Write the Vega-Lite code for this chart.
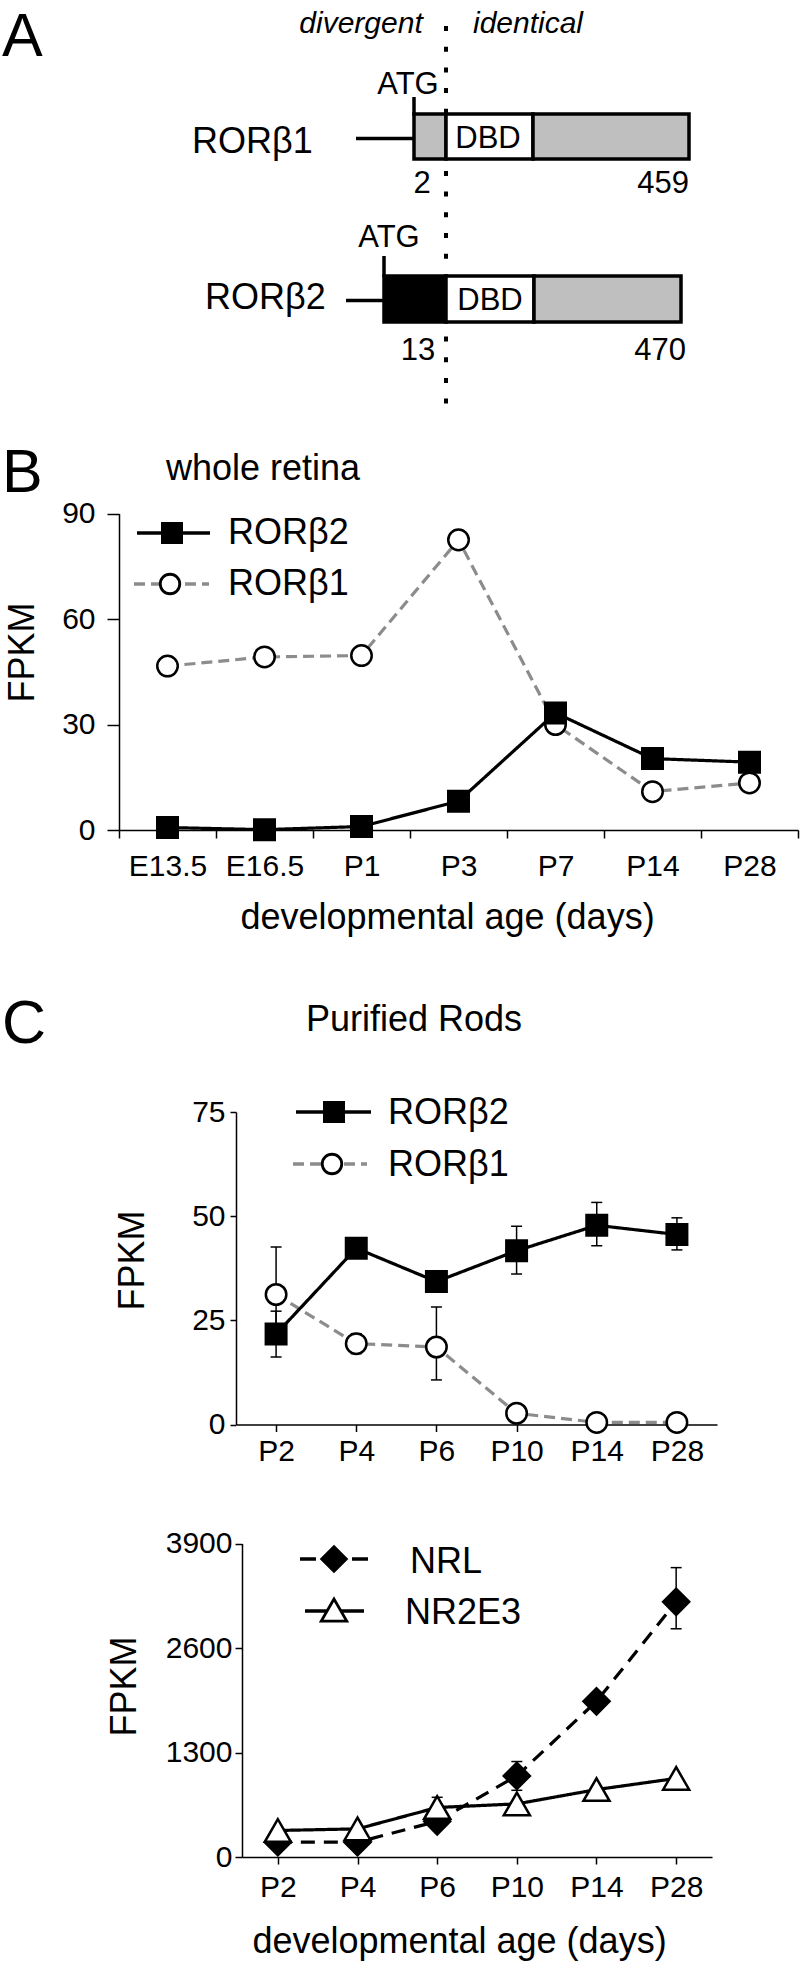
{
  "$schema": "https://vega.github.io/schema/vega-lite/v6.json",
  "background": "white",
  "padding": 0,
  "spacing": 0,
  "bounds": "flush",
  "resolve": {
    "scale": {"fill": "independent", "stroke": "independent", "strokeDash": "independent", "shape": "independent"}
  },
  "config": {
    "view": {"stroke": null},
    "font": "Liberation Sans",
    "axis": {
      "grid": false,
      "domainColor": "black",
      "tickColor": "black",
      "labelColor": "black",
      "titleColor": "black",
      "labelFont": "Liberation Sans",
      "titleFont": "Liberation Sans",
      "titleFontWeight": "normal",
      "labelFontSize": 30,
      "titleFontSize": 36,
      "domainWidth": 1.5,
      "tickWidth": 1.5,
      "labelOverlap": false,
      "labelFlush": false
    },
    "text": {"font": "Liberation Sans", "color": "black"}
  },
  "vconcat": [
    {
      "width": 800,
      "height": 420,
      "layer": [
        {
          "data": {"values": [{"feature": "boundary", "x": 446, "y": 26, "y2": 406}]},
          "mark": {"type": "rule", "strokeDash": [5, 15.7], "strokeWidth": 4, "color": "black", "strokeCap": "butt"},
          "encoding": {
            "x": {"field": "x", "type": "quantitative", "scale": {"domain": [0, 800], "range": [0, 800], "nice": false, "zero": false}, "axis": null},
            "y": {"field": "y", "type": "quantitative", "scale": {"domain": [0, 1962], "range": [0, 1962], "nice": false, "zero": false}, "axis": null},
            "y2": {"field": "y2"}
          }
        },
        {
          "data": {"values": [
            {"feature": "5' UTR RORβ1", "x": 356, "x2": 414, "y": 138.5, "y2": 138.5},
            {"feature": "ATG RORβ1", "x": 414, "x2": 414, "y": 97, "y2": 116},
            {"feature": "5' UTR RORβ2", "x": 346, "x2": 384, "y": 300.5, "y2": 300.5},
            {"feature": "ATG RORβ2", "x": 384, "x2": 384, "y": 256, "y2": 277}
          ]},
          "mark": {"type": "rule", "strokeWidth": 3.5, "color": "black"},
          "encoding": {
            "x": {"field": "x", "type": "quantitative"},
            "x2": {"field": "x2"},
            "y": {"field": "y", "type": "quantitative"},
            "y2": {"field": "y2"}
          }
        },
        {
          "data": {"values": [
            {"isoform": "RORβ1", "region": "N-term RORβ1", "start": 414, "end": 446, "top": 114, "bottom": 159},
            {"isoform": "RORβ1", "region": "DBD", "start": 446, "end": 533, "top": 114, "bottom": 159},
            {"isoform": "RORβ1", "region": "common", "start": 533, "end": 689, "top": 114, "bottom": 159},
            {"isoform": "RORβ2", "region": "N-term RORβ2", "start": 384, "end": 446, "top": 276, "bottom": 322},
            {"isoform": "RORβ2", "region": "DBD", "start": 446, "end": 534, "top": 276, "bottom": 322},
            {"isoform": "RORβ2", "region": "common", "start": 534, "end": 681, "top": 276, "bottom": 322}
          ]},
          "mark": {"type": "rect", "stroke": "black", "strokeWidth": 3.5},
          "encoding": {
            "x": {"field": "start", "type": "quantitative"},
            "x2": {"field": "end"},
            "y": {"field": "top", "type": "quantitative"},
            "y2": {"field": "bottom"},
            "fill": {"field": "region", "type": "nominal", "scale": {"domain": ["N-term RORβ1", "DBD", "common", "N-term RORβ2"], "range": ["#bfbfbf", "white", "#bfbfbf", "black"]}, "legend": null}
          }
        },
        {
          "data": {"values": [
            {"label": "A", "x": 2, "y": 56},
            {"label": "B", "x": 2, "y": 492},
            {"label": "C", "x": 2, "y": 1043}
          ]},
          "mark": {"type": "text", "fontSize": 61, "align": "left", "baseline": "alphabetic"},
          "encoding": {
            "x": {"field": "x", "type": "quantitative"},
            "y": {"field": "y", "type": "quantitative"},
            "text": {"field": "label"}
          }
        },
        {
          "data": {"values": [
            {"label": "divergent", "x": 361, "y": 33},
            {"label": "identical", "x": 528, "y": 33}
          ]},
          "mark": {"type": "text", "fontSize": 30, "fontStyle": "italic", "align": "center", "baseline": "alphabetic"},
          "encoding": {
            "x": {"field": "x", "type": "quantitative"},
            "y": {"field": "y", "type": "quantitative"},
            "text": {"field": "label"}
          }
        },
        {
          "data": {"values": [
            {"label": "whole retina", "x": 263, "y": 480},
            {"label": "Purified Rods", "x": 414, "y": 1031}
          ]},
          "mark": {"type": "text", "fontSize": 36, "align": "center", "baseline": "alphabetic"},
          "encoding": {
            "x": {"field": "x", "type": "quantitative"},
            "y": {"field": "y", "type": "quantitative"},
            "text": {"field": "label"}
          }
        },
        {
          "data": {"values": [
            {"label": "RORβ1", "x": 192, "y": 153},
            {"label": "RORβ2", "x": 205, "y": 309}
          ]},
          "mark": {"type": "text", "fontSize": 36, "align": "left", "baseline": "alphabetic"},
          "encoding": {
            "x": {"field": "x", "type": "quantitative"},
            "y": {"field": "y", "type": "quantitative"},
            "text": {"field": "label"}
          }
        },
        {
          "data": {"values": [
            {"label": "ATG", "x": 408, "y": 94},
            {"label": "ATG", "x": 389, "y": 247},
            {"label": "DBD", "x": 488, "y": 148},
            {"label": "DBD", "x": 490, "y": 310},
            {"label": "2", "x": 422, "y": 193},
            {"label": "13", "x": 418, "y": 360}
          ]},
          "mark": {"type": "text", "fontSize": 31, "align": "center", "baseline": "alphabetic"},
          "encoding": {
            "x": {"field": "x", "type": "quantitative"},
            "y": {"field": "y", "type": "quantitative"},
            "text": {"field": "label"}
          }
        },
        {
          "data": {"values": [
            {"label": "459", "x": 689, "y": 193},
            {"label": "470", "x": 686, "y": 360}
          ]},
          "mark": {"type": "text", "fontSize": 31, "align": "right", "baseline": "alphabetic"},
          "encoding": {
            "x": {"field": "x", "type": "quantitative"},
            "y": {"field": "y", "type": "quantitative"},
            "text": {"field": "label"}
          }
        },
        {
          "data": {"values": [
            {"legend": "B", "gene": "RORβ2", "x": 137, "x2": 210, "y": 533},
            {"legend": "C rods", "gene": "RORβ2", "x": 296, "x2": 371, "y": 1112},
            {"legend": "C markers", "gene": "NR2E3", "x": 305, "x2": 364, "y": 1611}
          ]},
          "mark": {"type": "rule", "strokeWidth": 3.5, "color": "black"},
          "encoding": {
            "x": {"field": "x", "type": "quantitative"},
            "x2": {"field": "x2"},
            "y": {"field": "y", "type": "quantitative"}
          }
        },
        {
          "data": {"values": [
            {"legend": "B", "gene": "RORβ1", "x": 134, "x2": 209, "y": 584},
            {"legend": "C rods", "gene": "RORβ1", "x": 293, "x2": 367, "y": 1164}
          ]},
          "mark": {"type": "rule", "strokeWidth": 3.5, "color": "#8c8c8c", "strokeDash": [11, 6]},
          "encoding": {
            "x": {"field": "x", "type": "quantitative"},
            "x2": {"field": "x2"},
            "y": {"field": "y", "type": "quantitative"}
          }
        },
        {
          "data": {"values": [
            {"legend": "C markers", "gene": "NRL", "x": 300, "x2": 370, "y": 1559}
          ]},
          "mark": {"type": "rule", "strokeWidth": 3.5, "color": "black", "strokeDash": [16, 10]},
          "encoding": {
            "x": {"field": "x", "type": "quantitative"},
            "x2": {"field": "x2"},
            "y": {"field": "y", "type": "quantitative"}
          }
        },
        {
          "data": {"values": [
            {"legend": "B", "gene": "RORβ2", "x": 172, "y": 533},
            {"legend": "C rods", "gene": "RORβ2", "x": 334, "y": 1112}
          ]},
          "mark": {"type": "point", "shape": "square", "filled": true, "size": 420, "color": "black", "stroke": "black", "strokeWidth": 1.5, "opacity": 1},
          "encoding": {
            "x": {"field": "x", "type": "quantitative"},
            "y": {"field": "y", "type": "quantitative"}
          }
        },
        {
          "data": {"values": [
            {"legend": "B", "gene": "RORβ1", "x": 170, "y": 584},
            {"legend": "C rods", "gene": "RORβ1", "x": 332, "y": 1164}
          ]},
          "mark": {"type": "point", "shape": "circle", "filled": true, "size": 380, "fill": "white", "stroke": "black", "strokeWidth": 2.8, "opacity": 1},
          "encoding": {
            "x": {"field": "x", "type": "quantitative"},
            "y": {"field": "y", "type": "quantitative"}
          }
        },
        {
          "data": {"values": [
            {"legend": "C markers", "gene": "NRL", "x": 334, "y": 1559}
          ]},
          "mark": {"type": "point", "shape": "diamond", "filled": true, "size": 700, "color": "black", "stroke": "black", "strokeWidth": 1.5, "opacity": 1},
          "encoding": {
            "x": {"field": "x", "type": "quantitative"},
            "y": {"field": "y", "type": "quantitative"}
          }
        },
        {
          "data": {"values": [
            {"legend": "C markers", "gene": "NR2E3", "x": 334, "y": 1610}
          ]},
          "mark": {"type": "point", "shape": "triangle-up", "filled": true, "size": 650, "fill": "white", "stroke": "black", "strokeWidth": 2.8, "opacity": 1},
          "encoding": {
            "x": {"field": "x", "type": "quantitative"},
            "y": {"field": "y", "type": "quantitative"}
          }
        },
        {
          "data": {"values": [
            {"label": "RORβ2", "x": 228, "y": 544},
            {"label": "RORβ1", "x": 228, "y": 595},
            {"label": "RORβ2", "x": 388, "y": 1124},
            {"label": "RORβ1", "x": 388, "y": 1176},
            {"label": "NRL", "x": 410, "y": 1573},
            {"label": "NR2E3", "x": 405, "y": 1624}
          ]},
          "mark": {"type": "text", "fontSize": 36, "align": "left", "baseline": "alphabetic"},
          "encoding": {
            "x": {"field": "x", "type": "quantitative"},
            "y": {"field": "y", "type": "quantitative"},
            "text": {"field": "label"}
          }
        }
      ]
    },
    {
      "width": 800,
      "height": 540,
      "data": {"values": [
        {"gene": "RORβ1", "age": "E13.5", "fpkm": 46.6},
        {"gene": "RORβ1", "age": "E16.5", "fpkm": 49.2},
        {"gene": "RORβ1", "age": "P1", "fpkm": 49.6},
        {"gene": "RORβ1", "age": "P3", "fpkm": 82.5},
        {"gene": "RORβ1", "age": "P7", "fpkm": 30.0},
        {"gene": "RORβ1", "age": "P14", "fpkm": 10.9},
        {"gene": "RORβ1", "age": "P28", "fpkm": 13.4},
        {"gene": "RORβ2", "age": "E13.5", "fpkm": 0.7},
        {"gene": "RORβ2", "age": "E16.5", "fpkm": 0.1},
        {"gene": "RORβ2", "age": "P1", "fpkm": 1.0},
        {"gene": "RORβ2", "age": "P3", "fpkm": 8.2},
        {"gene": "RORβ2", "age": "P7", "fpkm": 33.3},
        {"gene": "RORβ2", "age": "P14", "fpkm": 20.3},
        {"gene": "RORβ2", "age": "P28", "fpkm": 19.3}
      ]},
      "layer": [
        {
          "mark": {"type": "line", "strokeWidth": 3.2},
          "encoding": {
            "x": {"field": "age", "type": "nominal", "sort": ["E13.5", "E16.5", "P1", "P3", "P7", "P14", "P28"],
                  "scale": {"type": "band", "range": [119, 798], "paddingInner": 0, "paddingOuter": 0},
                  "axis": {"title": "developmental age (days)", "offset": -130, "tickBand": "extent", "tickSize": 8, "labelPadding": 13, "labelAngle": 0,
                           "titleX": 447, "titleY": 98, "titleBaseline": "alphabetic", "titleAlign": "center"}},
            "y": {"field": "fpkm", "type": "quantitative",
                  "scale": {"domain": [0, 90], "range": [410, 93.5], "nice": false, "zero": false},
                  "axis": {"title": "FPKM", "values": [0, 30, 60, 90], "format": "d", "offset": -119, "tickSize": 12, "labelPadding": 12,
                           "titleX": -86, "titleY": 232, "titleBaseline": "alphabetic", "titleAngle": -90, "titleAlign": "center"}},
            "stroke": {"field": "gene", "type": "nominal", "scale": {"domain": ["RORβ2", "RORβ1"], "range": ["black", "#8c8c8c"]}, "legend": null},
            "strokeDash": {"field": "gene", "type": "nominal", "scale": {"domain": ["RORβ2", "RORβ1"], "range": [[1, 0], [11, 6]]}, "legend": null}
          }
        },
        {
          "mark": {"type": "point", "filled": true, "size": 420, "stroke": "black", "strokeWidth": 2.5, "opacity": 1},
          "encoding": {
            "x": {"field": "age", "type": "nominal", "sort": ["E13.5", "E16.5", "P1", "P3", "P7", "P14", "P28"]},
            "y": {"field": "fpkm", "type": "quantitative"},
            "shape": {"field": "gene", "type": "nominal", "scale": {"domain": ["RORβ2", "RORβ1"], "range": ["square", "circle"]}, "legend": null},
            "fill": {"field": "gene", "type": "nominal", "scale": {"domain": ["RORβ2", "RORβ1"], "range": ["black", "white"]}, "legend": null}
          }
        }
      ]
    },
    {
      "width": 800,
      "height": 520,
      "data": {"values": [
        {"gene": "RORβ1", "age": "P2", "fpkm": 31.2, "lo": 19.8, "hi": 42.6},
        {"gene": "RORβ1", "age": "P4", "fpkm": 19.4, "lo": 17.0, "hi": 21.8},
        {"gene": "RORβ1", "age": "P6", "fpkm": 18.6, "lo": 10.7, "hi": 28.2},
        {"gene": "RORβ1", "age": "P10", "fpkm": 2.7},
        {"gene": "RORβ1", "age": "P14", "fpkm": 0.5},
        {"gene": "RORβ1", "age": "P28", "fpkm": 0.5},
        {"gene": "RORβ2", "age": "P2", "fpkm": 21.7, "lo": 16.2, "hi": 27.2},
        {"gene": "RORβ2", "age": "P4", "fpkm": 42.3},
        {"gene": "RORβ2", "age": "P6", "fpkm": 34.3},
        {"gene": "RORβ2", "age": "P10", "fpkm": 41.7, "lo": 36.1, "hi": 47.6},
        {"gene": "RORβ2", "age": "P14", "fpkm": 47.8, "lo": 42.9, "hi": 53.3},
        {"gene": "RORβ2", "age": "P28", "fpkm": 45.6, "lo": 41.9, "hi": 49.6}
      ]},
      "layer": [
        {
          "mark": {"type": "line", "strokeWidth": 3.2},
          "encoding": {
            "x": {"field": "age", "type": "nominal", "sort": ["P2", "P4", "P6", "P10", "P14", "P28"],
                  "scale": {"type": "point", "range": [236, 717], "padding": 0.5},
                  "axis": {"title": null, "offset": -55.5, "tickSize": 7, "labelPadding": 5, "labelAngle": 0}},
            "y": {"field": "fpkm", "type": "quantitative",
                  "scale": {"domain": [0, 75], "range": [464.5, 152], "nice": false, "zero": false},
                  "axis": {"title": "FPKM", "values": [0, 25, 50, 75], "format": "d", "offset": -236, "tickSize": 6, "labelPadding": 5,
                           "titleX": -93, "titleY": 300, "titleBaseline": "alphabetic", "titleAngle": -90, "titleAlign": "center"}},
            "stroke": {"field": "gene", "type": "nominal", "scale": {"domain": ["RORβ2", "RORβ1"], "range": ["black", "#8c8c8c"]}, "legend": null},
            "strokeDash": {"field": "gene", "type": "nominal", "scale": {"domain": ["RORβ2", "RORβ1"], "range": [[1, 0], [11, 6]]}, "legend": null}
          }
        },
        {
          "transform": [{"filter": "isValid(datum.lo)"}],
          "mark": {"type": "rule", "strokeWidth": 1.5, "color": "black"},
          "encoding": {
            "x": {"field": "age", "type": "nominal", "sort": ["P2", "P4", "P6", "P10", "P14", "P28"]},
            "y": {"field": "lo", "type": "quantitative"},
            "y2": {"field": "hi"}
          }
        },
        {
          "transform": [{"filter": "isValid(datum.lo)"}],
          "mark": {"type": "tick", "size": 11, "thickness": 1.5, "color": "black", "opacity": 1},
          "encoding": {
            "x": {"field": "age", "type": "nominal", "sort": ["P2", "P4", "P6", "P10", "P14", "P28"]},
            "y": {"field": "lo", "type": "quantitative"}
          }
        },
        {
          "transform": [{"filter": "isValid(datum.hi)"}],
          "mark": {"type": "tick", "size": 11, "thickness": 1.5, "color": "black", "opacity": 1},
          "encoding": {
            "x": {"field": "age", "type": "nominal", "sort": ["P2", "P4", "P6", "P10", "P14", "P28"]},
            "y": {"field": "hi", "type": "quantitative"}
          }
        },
        {
          "mark": {"type": "point", "filled": true, "size": 420, "stroke": "black", "strokeWidth": 2.5, "opacity": 1},
          "encoding": {
            "x": {"field": "age", "type": "nominal", "sort": ["P2", "P4", "P6", "P10", "P14", "P28"]},
            "y": {"field": "fpkm", "type": "quantitative"},
            "shape": {"field": "gene", "type": "nominal", "scale": {"domain": ["RORβ2", "RORβ1"], "range": ["square", "circle"]}, "legend": null},
            "fill": {"field": "gene", "type": "nominal", "scale": {"domain": ["RORβ2", "RORβ1"], "range": ["black", "white"]}, "legend": null}
          }
        }
      ]
    },
    {
      "width": 800,
      "height": 482,
      "data": {"values": [
        {"gene": "NRL", "age": "P2", "fpkm": 184},
        {"gene": "NRL", "age": "P4", "fpkm": 184},
        {"gene": "NRL", "age": "P6", "fpkm": 444},
        {"gene": "NRL", "age": "P10", "fpkm": 1009, "lo": 830, "hi": 1188},
        {"gene": "NRL", "age": "P14", "fpkm": 1937},
        {"gene": "NRL", "age": "P28", "fpkm": 3175, "lo": 2840, "hi": 3601},
        {"gene": "NR2E3", "age": "P2", "fpkm": 330},
        {"gene": "NR2E3", "age": "P4", "fpkm": 350},
        {"gene": "NR2E3", "age": "P6", "fpkm": 616, "lo": 490, "hi": 743},
        {"gene": "NR2E3", "age": "P10", "fpkm": 661},
        {"gene": "NR2E3", "age": "P14", "fpkm": 839},
        {"gene": "NR2E3", "age": "P28", "fpkm": 978}
      ]},
      "layer": [
        {
          "mark": {"type": "line", "strokeWidth": 3.2},
          "encoding": {
            "x": {"field": "age", "type": "nominal", "sort": ["P2", "P4", "P6", "P10", "P14", "P28"],
                  "scale": {"type": "point", "range": [242, 712], "padding": 0.45},
                  "axis": {"title": "developmental age (days)", "offset": -105, "tickSize": 7, "labelPadding": 8, "labelAngle": 0,
                           "titleX": 459, "titleY": 95, "titleBaseline": "alphabetic", "titleAlign": "center"}},
            "y": {"field": "fpkm", "type": "quantitative",
                  "scale": {"domain": [0, 3900], "range": [377, 63.6], "nice": false, "zero": false},
                  "axis": {"title": "FPKM", "values": [0, 1300, 2600, 3900], "format": "d", "offset": -242, "tickSize": 7, "labelPadding": 3,
                           "titleX": -107, "titleY": 206, "titleBaseline": "alphabetic", "titleAngle": -90, "titleAlign": "center"}},
            "stroke": {"field": "gene", "type": "nominal", "scale": {"domain": ["NRL", "NR2E3"], "range": ["black", "black"]}, "legend": null},
            "strokeDash": {"field": "gene", "type": "nominal", "scale": {"domain": ["NRL", "NR2E3"], "range": [[14, 9], [1, 0]]}, "legend": null}
          }
        },
        {
          "transform": [{"filter": "isValid(datum.lo)"}],
          "mark": {"type": "rule", "strokeWidth": 1.5, "color": "black"},
          "encoding": {
            "x": {"field": "age", "type": "nominal", "sort": ["P2", "P4", "P6", "P10", "P14", "P28"]},
            "y": {"field": "lo", "type": "quantitative"},
            "y2": {"field": "hi"}
          }
        },
        {
          "transform": [{"filter": "isValid(datum.lo)"}],
          "mark": {"type": "tick", "size": 11, "thickness": 1.5, "color": "black", "opacity": 1},
          "encoding": {
            "x": {"field": "age", "type": "nominal", "sort": ["P2", "P4", "P6", "P10", "P14", "P28"]},
            "y": {"field": "lo", "type": "quantitative"}
          }
        },
        {
          "transform": [{"filter": "isValid(datum.hi)"}],
          "mark": {"type": "tick", "size": 11, "thickness": 1.5, "color": "black", "opacity": 1},
          "encoding": {
            "x": {"field": "age", "type": "nominal", "sort": ["P2", "P4", "P6", "P10", "P14", "P28"]},
            "y": {"field": "hi", "type": "quantitative"}
          }
        },
        {
          "mark": {"type": "point", "filled": true, "size": 680, "stroke": "black", "strokeWidth": 2.5, "opacity": 1},
          "encoding": {
            "x": {"field": "age", "type": "nominal", "sort": ["P2", "P4", "P6", "P10", "P14", "P28"]},
            "y": {"field": "fpkm", "type": "quantitative"},
            "shape": {"field": "gene", "type": "nominal", "scale": {"domain": ["NRL", "NR2E3"], "range": ["diamond", "triangle-up"]}, "legend": null},
            "fill": {"field": "gene", "type": "nominal", "scale": {"domain": ["NRL", "NR2E3"], "range": ["black", "white"]}, "legend": null}
          }
        }
      ]
    }
  ]
}
